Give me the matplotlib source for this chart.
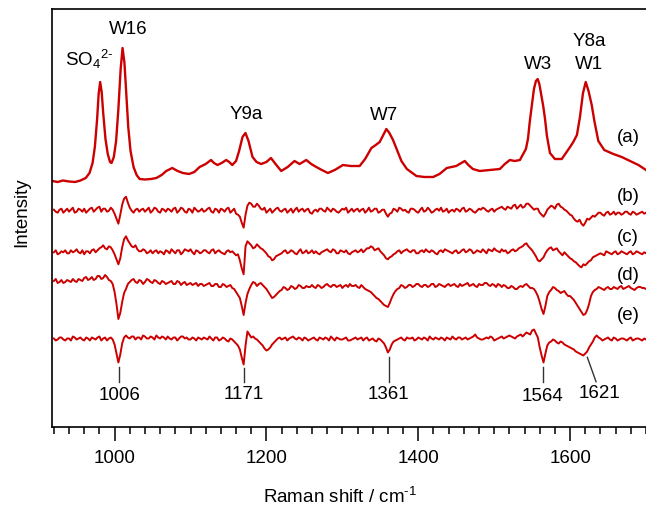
import numpy as np
import matplotlib
matplotlib.use('Agg')
import matplotlib.pyplot as plt
from matplotlib.ticker import MultipleLocator

plt.rcParams['font.family'] = 'Liberation Sans'
plt.rcParams['mathtext.fontset'] = 'custom'
plt.rcParams['mathtext.rm'] = 'Liberation Sans'
plt.rcParams['mathtext.it'] = 'Liberation Sans:italic'

RED = '#cc0000'
FS = 13.5

# spectrum (a): Raman shift (cm-1) and intensity above its baseline
a_shift = [918, 925, 932, 940, 948, 955, 962, 967, 971, 974, 977, 979, 981, 983, 985,
           988, 991, 994, 996, 999, 1002, 1005, 1008, 1010.5, 1013, 1015.5, 1018, 1021,
           1025, 1029, 1033, 1040, 1048, 1055, 1062, 1068, 1076, 1083, 1090, 1098, 1105,
           1112, 1120, 1127, 1131, 1135.5, 1141, 1147, 1151, 1155, 1160, 1164, 1168.5,
           1172.4, 1176.4, 1181.7, 1187, 1193, 1200, 1206, 1212, 1219.5, 1228, 1237,
           1243.7, 1252.5, 1259, 1265.7, 1273, 1281, 1290, 1300.8, 1311, 1322.8, 1330,
           1338.3, 1344, 1349.2, 1354, 1358, 1362, 1366.8, 1372, 1377.8, 1385, 1397.6,
           1408, 1419.5, 1428, 1437.6, 1450, 1461.3, 1466, 1471.9, 1481, 1494, 1507.5,
           1514, 1520.7, 1527, 1533.9, 1541.8, 1544.5, 1547, 1550, 1552.4, 1555, 1557.3,
           1559.5, 1561.6, 1564.6, 1567, 1569.5, 1573.5, 1580, 1589, 1595.5, 1600, 1604.2,
           1609, 1613, 1617, 1620.6, 1624.3, 1628.5, 1632, 1637.2, 1645, 1657, 1668,
           1679, 1690, 1700]
a_int = [0, -1, 0.5, -0.5, -1, 0.5, 3, 8, 18, 34, 62, 87, 99, 89, 68,
         42, 27, 19, 18, 24, 40, 72, 112, 133, 118, 86, 54, 30,
         14, 6, 2, 1.5, 2, 3, 6, 10, 13, 10, 8, 7, 9,
         14, 17, 21, 18, 16, 18, 21, 19, 16, 20, 30, 44,
         48, 40, 24, 19, 17, 19, 23, 17, 10, 14, 20,
         17, 21, 17, 14, 11, 8, 11, 16, 15, 15, 22,
         33, 36, 39, 46, 52, 48, 41, 31, 20, 12, 5,
         4, 4, 7, 13, 15, 20, 16, 12, 10, 11, 12,
         17, 21, 20, 21, 32, 42, 60, 78, 92, 100, 102,
         97, 88, 75, 62, 45, 28, 22, 22, 29, 34, 39,
         46, 64, 88, 99, 90, 76, 60, 40, 31, 27, 24,
         20, 16, 11]

# difference spectra (b)-(e): values at 920, 925, ... 1700 cm-1
diff_shift = np.arange(920, 1701, 5)
b_int = [1, -2, 2, 0, -1, 3, -1, 1, 2, 0,
         3, 1, 4, 2, -1, 3, -3, -13, 6, 14,
         3, -2, 2, 1, -1, 3, 0, 2, -2, 1,
         2, -1, 3, 0, 2, -2, 1, 3, -1, 2,
         0, 3, -2, 1, 2, -1, 3, 0, -3, -6,
         -17, 5, 7, 4, 5, 1, -2, 2, 0, 3,
         -1, 2, 0, -2, 3, 1, -1, 2, -3, 1,
         2, 0, 3, -1, 1, -2, 2, 3, 0, -1,
         2, 1, -2, 3, 0, 2, -1, 1, -6, -2,
         1, 3, 0, -1, 2, 1, -2, 3, 0, 1,
         -1, 2, 3, 0, -2, 1, 2, -1, 3, 0,
         1, -2, 2, 3, 0, 1, -1, 2, 4, 1,
         3, 5, 2, 6, 4, 7, 3, 2, -2, -6,
         1, 5, 2, 7, 3, 0, -4, -8, -11, -13,
         -12, -9, -5, -4, -2, -5, -1, -3, -4, -2,
         -3, -1, -4, -2, -3, -1, -2]
c_int = [0, -2, 1, 2, -1, 0, 3, -1, -2, 1,
         2, 0, 4, 7, 3, 5, -2, -12, 5, 16,
         9, 5, 3, 1, 2, 0, -1, 2, 1, -2,
         1, 3, -1, 2, 0, 2, 3, -2, 1, 0,
         2, -1, 3, 1, 0, -2, 2, 1, -3, -8,
         -22, 11, 7, 5, 6, 3, -1, -5, -7, -3,
         -1, 2, 0, 1, -2, 3, 0, -1, 2, 1,
         -2, 1, 3, 0, 2, -1, 1, 2, -2, 1,
         0, 3, 2, 4, 5, 3, 1, -3, -7, -4,
         -1, 2, 1, 3, 0, 2, -1, 2, 3, 0,
         1, -2, 2, 3, 1, -1, 2, 0, 3, 1,
         2, 0, 1, 3, -1, 2, 4, 1, 3, 2,
         0, 3, 2, 5, 8, 6, 2, -4, -9, -5,
         2, 5, 3, 1, -3, -2, -6, -9, -12, -15,
         -13, -9, -5, -3, -1, -3, 0, -2, 1, -1,
         0, -2, 1, -1, 0, -2, -1]
d_int = [5, 3, 6, 4, 5, 7, 4, 6, 8, 6,
         9, 7, 10, 8, 9, 5, -6, -33, -16, -3,
         4, 7, 3, 5, 4, 6, 3, 5, 2, 4,
         3, 5, 2, 4, 3, 1, 3, 2, 0, 2,
         1, 3, 0, 2, -1, 1, 0, -2, -6, -12,
         -29, -8, 1, 3, 2, 1, -3, -9, -11, -7,
         -4, -2, -3, -1, -2, 0, -2, -1, 1, -2,
         0, -1, 2, -1, 1, 0, -2, 1, 2, 0,
         -1, 1, -3, -5, -8, -12, -15, -19, -21, -12,
         -5, -2, 0, -1, 1, 0, 2, -1, 1, 0,
         2, 0, 1, -1, 2, 1, 0, 2, 1, 3,
         1, 0, 2, 1, 3, 0, 1, 2, -1, 0,
         -2, -1, -3, 0, 1, 0, -2, -6, -16, -28,
         -10, -4, -2, -5, -6, -8, -10, -14, -20, -26,
         -28, -18, -6, -3, -2, -4, -1, -3, -2, -1,
         -3, -1, -2, -4, -1, -2, -3]
e_int = [1, 0, 2, -1, 1, 3, 0, 2, -1, 1,
         2, 0, 3, 1, -1, 2, -5, -23, -4, 4,
         1, 3, 2, 0, 3, 1, 2, 4, 1, 2,
         3, 0, 2, 1, 3, 2, 0, 1, 2, 0,
         1, 3, -1, 2, 0, 1, -2, 0, -4, -10,
         -25, 8, 2, 1, -2, -6, -11, -8, -3, 1,
         0, 2, 1, 3, 0, 1, 2, -1, 1, 0,
         2, 0, 1, 3, -1, 1, 0, 2, -1, 1,
         0, 2, 1, -1, 1, -2, 0, -4, -13, -5,
         -1, 1, 0, 2, 1, -1, 2, 0, 1, 3,
         0, 1, 2, -1, 1, 3, 0, 2, 1, 0,
         2, 5, 1, 0, 2, 3, -1, 1, 3, 2,
         4, 2, 3, 5, 5, 6, 9, 6, -8, -23,
         -6, -2, -1, -4, -3, -6, -8, -10, -13, -15,
         -14, -8, -2, 4, 1, 0, 2, -1, 1, 0,
         1, -1, 2, 0, 1, -1, 0]

# values read in between, at 922.5, 927.5, ... 1697.5 cm-1
mid_shift = np.arange(922.5, 1700, 5)
b_mid = [-1, 1, -2, 2, 1, -2, 2, -1, -2, 2,
         -1, 3, -1, 2, 0, 1, -8, -4, 12, 8,
         0, 1, -1, 2, 1, -2, 3, -1, 2, -1,
         1, 2, -2, 3, -1, 2, -2, 1, 0, -1,
         2, -1, 2, -2, 1, 2, -2, 2, -4, -12,
         -4, 8, 4, 7, 2, 3, 0, -2, 2, 0,
         1, -2, 2, 1, -1, 2, 1, -2, 0, -1,
         2, -1, 1, 2, -1, 0, 1, -2, 2, 1,
         -1, 2, 0, -1, 2, -2, 1, -3, -3, 2,
         -1, 2, 1, -2, 2, -1, 1, -1, 3, -2,
         1, 0, -1, 2, 0, -1, 1, 2, -1, 2,
         -1, 0, 1, 2, -1, 2, 1, 3, 2, 4,
         2, 6, 4, 3, 7, 5, 1, 2, -4, -3,
         3, 4, 6, 4, 1, -2, -5, -10, -9, -15,
         -8, -7, -6, -2, -4, -2, -4, -1, -2, -4,
         -1, -3, -1, -4, -2, -3]
c_mid = [2, -1, 0, -1, 2, 1, 0, 2, 1, -1,
         3, 2, 5, 4, 6, 2, -7, -6, 13, 12,
         6, 7, 1, 3, -1, 2, 1, -1, 0, 2,
         -1, 1, 2, -2, 3, 1, 0, 2, -1, 2,
         0, 2, -1, 2, -1, 1, 0, -1, -2, -16,
         6, 9, 4, 8, 4, 1, -4, -8, -4, -2,
         1, -1, 2, -1, 1, -1, 2, 0, -1, -1,
         0, 2, 1, 3, -1, 2, 0, -1, 0, 2,
         1, 0, 4, 6, 2, 4, -1, -6, -5, -2,
         1, -1, 2, 1, 2, -1, 1, 0, 1, 2,
         -1, 1, 0, 2, 0, 1, -1, 2, 0, 3,
         -1, 2, 0, 1, 3, 1, 2, 0, 1, -1,
         2, 1, 4, 6, 9, 4, -1, -8, -7, -1,
         4, 2, 4, -1, 0, -4, -7, -10, -14, -12,
         -11, -8, -4, -2, -2, 1, -1, 0, -2, 1,
         -1, 0, -2, 1, -1, 0]
d_mid = [7, 4, 3, 6, 4, 5, 7, 5, 9, 7,
         6, 10, 7, 11, 6, 2, -18, -27, -7, 2,
         6, 4, 6, 2, 7, 4, 6, 3, 5, 2,
         4, 2, 5, 1, 4, 2, 1, 3, 2, 0,
         2, 0, 2, -1, 2, -1, 1, -3, -9, -20,
         -17, -3, 4, 0, 3, -1, -6, -12, -9, -5,
         -1, -4, 0, -3, 1, -2, 0, -1, -1, 1,
         -2, 1, 0, 1, -1, 1, 0, -1, 0, 1,
         -2, -1, -4, -6, -10, -13, -17, -20, -17, -8,
         -3, 1, -2, 1, -1, 2, 0, 1, -1, 2,
         -1, 2, 0, 1, 0, 2, -1, 0, 2, 0,
         2, -1, 1, 3, 1, 2, -1, 1, 1, -2,
         0, -3, -1, -1, 2, -2, -3, -10, -23, -20,
         -6, -1, -4, -7, -5, -10, -12, -17, -23, -29,
         -24, -10, -4, -1, -3, -2, -3, -1, -3, 0,
         -2, 0, -3, -2, -1, -2]
e_mid = [-1, 2, 0, 1, -1, 2, 1, 0, 2, -1,
         1, 2, -1, 2, 1, 0, -14, -15, 2, 2,
         3, 0, 2, 4, 1, 3, 0, 2, 3, 0,
         1, 2, -1, 3, 1, 0, 2, -1, 1, 2,
         0, 1, 2, -1, 2, -1, 1, -2, -6, -18,
         -6, 5, 3, 0, -4, -9, -10, -5, -1, 2,
         1, -1, 2, 1, 2, -1, 1, 0, 2, -1,
         1, 2, -1, 1, 2, 0, 1, -1, 0, 2,
         1, -1, 2, 0, -1, 1, -2, -8, -10, -2,
         0, 2, -1, 1, 2, 0, 1, 2, -1, 1,
         2, 0, 1, 2, 0, 1, 2, 0, 2, 1,
         3, 2, 0, 1, 1, 2, 0, 2, 1, 3,
         3, 1, 4, 3, 7, 5, 10, 2, -16, -14,
         -3, 0, -3, -2, -5, -7, -9, -12, -14, -16,
         -12, -5, 2, 2, -1, 1, 0, 2, -1, 1,
         0, 1, -1, 1, 0, 1]

trace_names = ['(a)', '(b)', '(c)', '(d)', '(e)']
peak_names = [r'SO$_4$$^{2\text{-}}$', 'W16', 'Y9a', 'W7', 'W3', 'Y8a', 'W1']
marked_shifts = [1006, 1171, 1361, 1564, 1621]


def merge(main_vals, mid_vals):
    # put the in-between readings back in order of Raman shift
    xs = np.empty(len(diff_shift) + len(mid_shift))
    ys = np.empty_like(xs)
    xs[0::2] = diff_shift
    xs[1::2] = mid_shift
    ys[0::2] = main_vals
    ys[1::2] = mid_vals
    return xs, ys


fig = plt.figure(figsize=(6.46, 5.10), dpi=100)
W, H = 646, 510
ax = fig.add_axes([51.5 / W, (H - 427.7) / H, (W - 51.5) / W, (427.7 - 10) / H])

# vertical offsets of the stacked traces
offsets = [245.7, 216, 174.4, 140.7, 87.2]

ax.plot(a_shift, np.array(a_int) + offsets[0], color=RED, lw=1.7)
for vals, mids, off in zip([b_int, c_int, d_int, e_int],
                           [b_mid, c_mid, d_mid, e_mid], offsets[1:]):
    xs, ys = merge(vals, mids)
    ax.plot(xs, ys + off, color=RED, lw=1.4)

ax.set_xlim(916.9, 1700)
ax.set_ylim(0, 417.7)
ax.set_yticks([])

# peak assignments on spectrum (a)
peak_pos = [(966, 368.2), (1017.8, 398.4), (1174, 313.2), (1355, 312.7),
            (1557.7, 363.2), (1625, 386.7), (1625, 363.2)]
for name, (px, py) in zip(peak_names, peak_pos):
    ax.text(px, py, name, fontsize=FS, ha='center', va='center')

# trace letters on the right
letter_y = [290, 231, 190.2, 151.9, 111.9]
for name, ty in zip(trace_names, letter_y):
    ax.text(1676.4, ty, name, fontsize=FS, ha='center', va='center')

# marker lines and numbers under (e)
line_tops = [(1006, 59.4), (1171, 58.7), (1361, 69.7), (1564, 59.4), (1622.7, 69.4)]
line_bots = [(1006, 44.4), (1171, 44.4), (1361, 44.4), (1564, 44.4), (1634.2, 45)]
label_pos = [(1006.9, 32.4), (1169.8, 33), (1361.1, 32.7), (1563.6, 31), (1638.1, 34)]
for s, top, bot, lp in zip(marked_shifts, line_tops, line_bots, label_pos):
    ax.plot([top[0], bot[0]], [top[1], bot[1]], color='#333333', lw=1)
    ax.text(lp[0], lp[1], str(s), fontsize=FS, ha='center', va='center')

ax.spines['right'].set_visible(False)
for sp in ['left', 'bottom', 'top']:
    ax.spines[sp].set_linewidth(1.2)

ax.xaxis.set_major_locator(MultipleLocator(200))
ax.xaxis.set_minor_locator(MultipleLocator(20))
ax.tick_params(axis='x', which='major', direction='out', length=10, width=1.1,
               labelsize=FS, pad=6)
ax.tick_params(axis='x', which='minor', direction='out', length=5, width=1.1)
ax.tick_params(axis='y', left=False)

fig.text(340 / W, 1 - 497 / H, r'Raman shift / cm$^{\text{-}1}$', fontsize=FS,
         ha='center', va='center')
fig.text(21.7 / W, 1 - 211.7 / H, 'Intensity', fontsize=FS, rotation=90,
         ha='center', va='center')

fig.savefig('out.png', dpi=100)
